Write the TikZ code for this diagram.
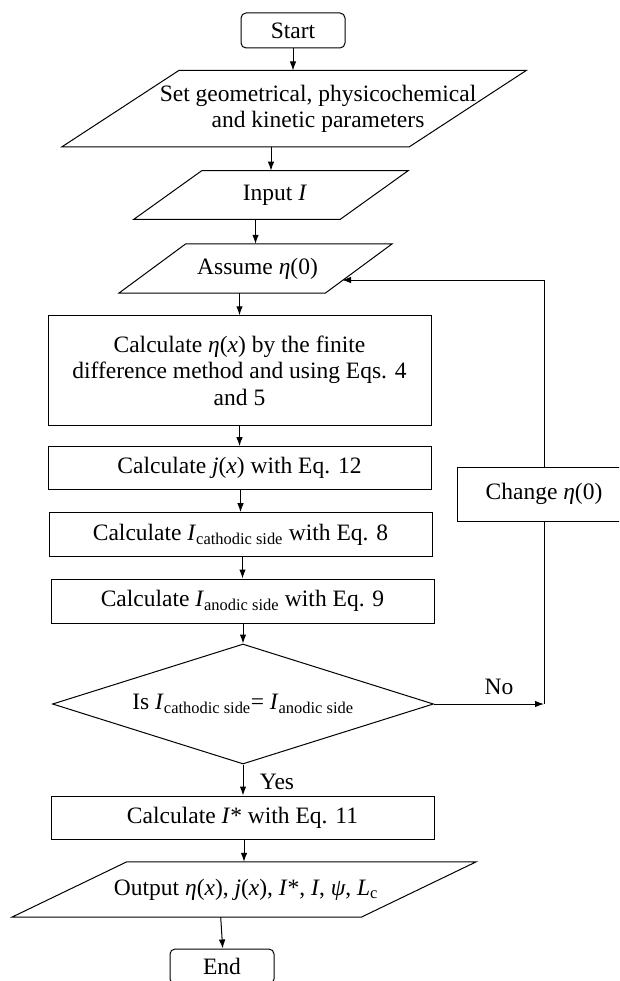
\documentclass[tikz,border=0pt]{standalone}
\usepackage{fontspec}
\setmainfont{Liberation Serif}
\usetikzlibrary{arrows.meta,shapes.geometric}
\begin{document}
\begin{tikzpicture}[x=1pt,y=-1pt,
  every node/.style={font=\fontsize{23.5}{26.5}\selectfont},
  base/.style={draw, line width=1pt, inner sep=0pt, align=center},
  procbox/.style={base, rectangle, minimum width=383pt, minimum height=44pt},
  termbox/.style={base, rectangle, rounded corners=5pt, minimum width=104pt, minimum height=35pt},
  iobox/.style={rectangle, inner sep=0pt, align=center},
  decbox/.style={base, diamond, aspect=3.175, minimum width=381pt, minimum height=120pt},
  arr/.style={line width=1pt, -{Latex[length=9pt,width=6.5pt]}},
  ln/.style={line width=1pt},
  lbl/.style={inner sep=0pt, align=center}]
\useasboundingbox (0,0) rectangle (619,981);
\clip (0,0) rectangle (619,981);

% terminals
\node[termbox] (start) at (293,30.5) {Start};
\node[termbox] (end) at (222,966.5) {End};

% input/output parallelograms
\node[iobox, minimum width=464pt, minimum height=76pt] (p1) at (294,108.7) {};
\draw[ln] ([xshift=117pt]p1.north west) -- (p1.north east) -- ([xshift=-117pt]p1.south east) -- (p1.south west) -- cycle;
\node[lbl] (p1t) at (318,108.7) {Set geometrical, physicochemical\\and kinetic parameters};

\node[iobox, minimum width=274pt, minimum height=48.3pt] (inp) at (271,195) {\hspace*{8pt}Input \textit{I}};
\draw[ln] ([xshift=68pt]inp.north west) -- (inp.north east) -- ([xshift=-68pt]inp.south east) -- (inp.south west) -- cycle;

\node[iobox, minimum width=273pt, minimum height=49pt] (asm) at (255.5,268.5) {\hspace*{4pt}Assume \textit{η}(0)};
\draw[ln] ([xshift=67pt]asm.north west) -- (asm.north east) -- ([xshift=-67pt]asm.south east) -- (asm.south west) -- cycle;

\node[iobox, minimum width=464pt, minimum height=55pt] (out) at (244,889.5) {\hspace*{4pt}Output \textit{η}(\textit{x}), \textit{j}(\textit{x}), \textit{I}*, \textit{I}, \textit{ψ}, \textit{L}\textsubscript{c}};
\draw[ln] ([xshift=115pt]out.north west) -- (out.north east) -- ([xshift=-115pt]out.south east) -- (out.south west) -- cycle;

% process boxes
\node[procbox, minimum height=109.3pt] (b1) at (239.5,370.4) {Calculate \textit{η}(\textit{x}) by the finite\\difference method and using Eqs. 4\\and 5};
\node[procbox, minimum height=43.3pt] (b2) at (239.5,468.3) {Calculate \textit{j}(\textit{x}) with Eq. 12};
\node[procbox] (b3) at (240.5,534.7) {Calculate \textit{I}\textsubscript{cathodic side} with Eq. 8};
\node[procbox] (b4) at (242.5,601) {Calculate \textit{I}\textsubscript{anodic side} with Eq. 9};
\node[decbox] (dia) at (243,704) {Is \textit{I}\textsubscript{cathodic side}= \textit{I}\textsubscript{anodic side}};
\node[procbox, minimum height=43pt] (b5) at (242.5,817.5) {Calculate \textit{I}* with Eq. 11};
\node[base, rectangle, minimum width=174pt, minimum height=54pt] (chg) at (544,494) {Change \textit{η}(0)};

% connectors
\draw[arr] (start.south) -- (start.south |- p1.north);
\draw[arr] (p1.south -| inp.north) -- (inp.north);
\draw[arr] (inp.south -| asm.north) -- (asm.north);
\draw[arr] (asm.south -| b1.north) -- (b1.north);
\draw[arr] (b1.south) -- (b1.south |- b2.north);
\draw[arr] (b2.south -| b3.north) -- (b3.north);
\draw[arr] (b3.south -| b4.north) -- (b4.north);
\draw[arr] (b4.south -| dia.north) -- (dia.north);
\draw[arr] (dia.south) -- (dia.south |- b5.north);
\draw[arr] (b5.south -| out.north) -- (out.north);
\draw[arr] ([xshift=-23.3pt]out.south) -- ([xshift=0.7pt]end.north);

\coordinate (nocorner) at (chg.south |- dia.east);
\coordinate (asmin) at (342,280);
\draw[arr] (dia.east) -- (nocorner);
\draw[ln] (nocorner) -- (chg.south);
\draw[arr] (chg.north) |- (asmin);

\node[lbl] (no) at (499,687) {No};
\node[lbl] (yes) at (277,782) {Yes};
\end{tikzpicture}
\end{document}
